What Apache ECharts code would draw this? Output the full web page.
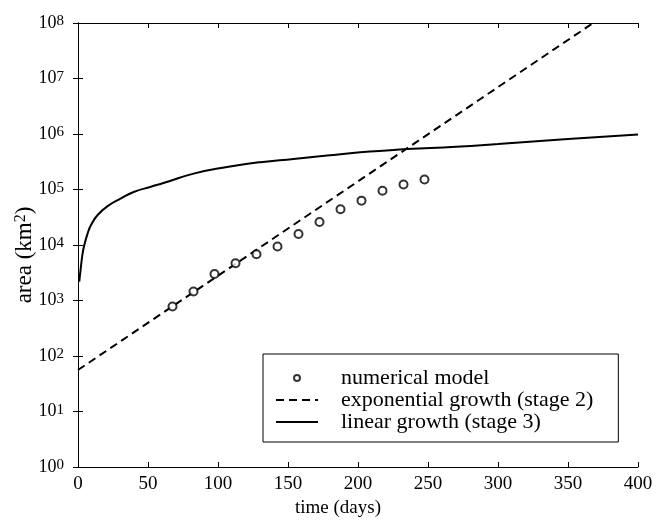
<!DOCTYPE html>
<html>
<head>
<meta charset="utf-8">
<script src="https://cdn.jsdelivr.net/npm/echarts@6/dist/echarts.min.js"></script>
<style>html,body{margin:0;padding:0;background:#fff;}#c{width:660px;height:529px;}</style>
</head>
<body>
<div id="c"></div>
<script>
// numerical model points (days, km^2)
var modelDays = [67.5, 82.5, 97.5, 112.5, 127.5, 142.5, 157.5, 172.5, 187.5, 202.5, 217.5, 232.5, 247.5];
var modelArea = [780, 1450, 3000, 4700, 6800, 9400, 15800, 26000, 44000, 63000, 95000, 123000, 151000];
// exponential growth (stage 2): straight line on log axis
var expDays = [0, 368];
var expArea = [56, 1e8];
// linear growth (stage 3)
var linDays = [0.9, 2.1, 3.3, 4.5, 6.9, 9.3, 14, 21.1, 30.7, 40.2, 52.1, 61.6, 82.6, 106.4, 130.2, 154, 177.9, 201.6, 225.4, 235, 270, 300, 350, 400];
var linArea = [2190, 4070, 7060, 10000, 16200, 22900, 34700, 50100, 69000, 91000, 112000, 132000, 193000, 254000, 311000, 356000, 409000, 469000, 515000, 537000, 590000, 660000, 810000, 980000];
var xTicks = [0, 50, 100, 150, 200, 250, 300, 350, 400];

function zip(a, b) { return a.map(function (v, i) { return [v, b[i]]; }); }

var FONT = 'Liberation Serif';
var chart = echarts.init(document.getElementById('c'));
var axisCommon = {
  axisLine: { show: true, lineStyle: { color: '#000', width: 1 } },
  axisTick: { show: true, inside: true, length: 5, lineStyle: { color: '#000' } },
  splitLine: { show: false },
  minorTick: { show: false }
};
var opt = {
  backgroundColor: '#fff',
  animation: false,
  grid: { left: 78, right: 22, top: 23, bottom: 62, containLabel: false, outerBoundsMode: 'none' },
  legend: {
    orient: 'vertical',
    left: 263, top: 354,
    padding: [13, 25, 9, 12],
    itemGap: 0,
    itemWidth: 42, itemHeight: 6,
    borderColor: '#000', borderWidth: 1,
    backgroundColor: '#fff',
    textStyle: { fontFamily: FONT, fontSize: 22, color: '#000', lineHeight: 20.5, padding: [0, 0, 0, 18] },
    data: [
      { name: 'numerical model' },
      { name: 'exponential growth (stage 2)', itemStyle: { opacity: 0 } },
      { name: 'linear growth (stage 3)', itemStyle: { opacity: 0 } }
    ]
  },
  xAxis: [
    Object.assign({}, axisCommon, {
      type: 'value', min: 0, max: 400, interval: 50, position: 'bottom',
      name: 'time (days)', nameLocation: 'middle', nameGap: 31,
      nameTextStyle: { fontFamily: FONT, fontSize: 19, color: '#000', padding: [0, 40, 0, 0] },
      axisLabel: { fontFamily: FONT, fontSize: 19, color: '#000', margin: 8 }
    }),
    Object.assign({}, axisCommon, {
      type: 'value', min: 0, max: 400, interval: 50, position: 'top',
      axisLabel: { show: false }
    })
  ],
  yAxis: [
    Object.assign({}, axisCommon, {
      type: 'log', logBase: 10, min: 1, max: 1e8, interval: 1, position: 'left',
      name: '{a|area (km}{s|2}{a|)}', nameLocation: 'middle', nameGap: 42, nameRotate: 90,
      nameMoveOverlap: false,
      nameTextStyle: {
        padding: [0, 20, 0, 0],
        rich: {
          a: { fontFamily: FONT, fontSize: 23, color: '#000', lineHeight: 23, verticalAlign: 'bottom' },
          s: { fontFamily: FONT, fontSize: 16, color: '#000', lineHeight: 16, verticalAlign: 'top', padding: [0, 0, 8, 0] }
        }
      },
      axisLabel: {
        margin: 14,
        formatter: function (v) { var e = Math.round(Math.log10(v)); return '{b|10}{s|' + e + '}'; },
        rich: {
          b: { fontFamily: FONT, fontSize: 18, color: '#000', lineHeight: 18, verticalAlign: 'bottom' },
          s: { fontFamily: FONT, fontSize: 15, color: '#000', lineHeight: 15, verticalAlign: 'top', padding: [0, 0, 12, 0] }
        }
      }
    }),
    Object.assign({}, axisCommon, {
      type: 'log', logBase: 10, min: 1, max: 1e8, interval: 1, position: 'right',
      axisLabel: { show: false }
    })
  ],
  series: [
    {
      name: 'numerical model', type: 'scatter', xAxisIndex: 0, yAxisIndex: 0,
      symbol: 'emptyCircle', symbolSize: 8,
      itemStyle: { color: '#000', borderColor: '#000', borderWidth: 1.3 },
      data: zip(modelDays, modelArea), z: 3
    },
    {
      name: 'exponential growth (stage 2)', type: 'line', xAxisIndex: 0, yAxisIndex: 0,
      symbol: 'none', showSymbol: false,
      itemStyle: { color: '#000' },
      lineStyle: { color: '#000', width: 2, type: [8, 5] },
      data: zip(expDays, expArea)
    },
    {
      name: 'linear growth (stage 3)', type: 'line', xAxisIndex: 0, yAxisIndex: 0,
      symbol: 'none', showSymbol: false, smooth: 0.5,
      itemStyle: { color: '#000' },
      lineStyle: { color: '#000', width: 2 },
      data: zip(linDays, linArea)
    }
  ]
};
chart.setOption(opt);
</script>
</body>
</html>
